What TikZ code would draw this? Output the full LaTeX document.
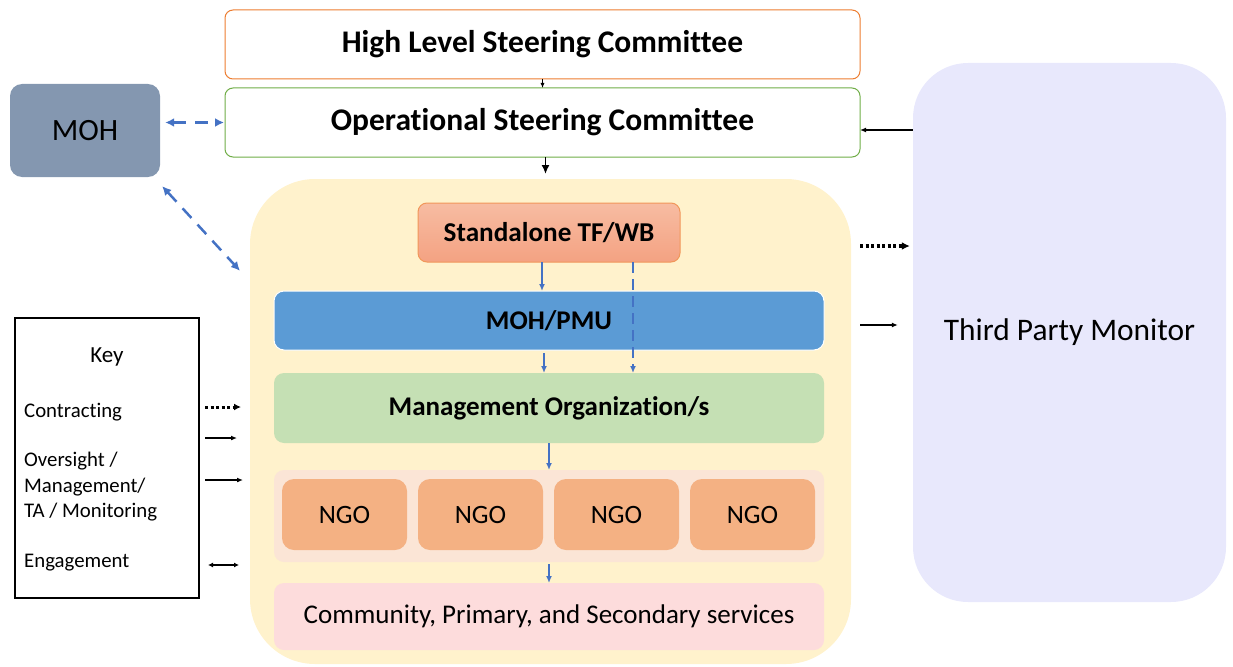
\documentclass[tikz,border=0pt]{standalone}
\usepackage{fontspec}
\setmainfont{Carlito}[Ligatures=NoCommon]
\usetikzlibrary{positioning,arrows.meta}

\definecolor{hlorange}{HTML}{ED7D31}
\definecolor{osgreen}{HTML}{70AD47}
\definecolor{mohgrey}{HTML}{8497B0}
\definecolor{arrowblue}{HTML}{4472C4}
\definecolor{pmublue}{HTML}{5B9BD5}
\definecolor{hostyellow}{HTML}{FFF2CC}
\definecolor{tftop}{HTML}{F7BCA2}
\definecolor{tfbottom}{HTML}{F4A282}
\definecolor{mogreen}{HTML}{C5E0B4}
\definecolor{ngopeach}{HTML}{FBE5D6}
\definecolor{ngoorange}{HTML}{F4B183}
\definecolor{commpink}{HTML}{FDDCDC}
\definecolor{tpmlilac}{HTML}{E8E8FC}

\begin{document}
\begin{tikzpicture}[x=1pt,y=-1pt]
\tikzstyle{board}=[rectangle, rounded corners=8pt, line width=1pt, fill=white, minimum width=635pt, minimum height=69pt, outer sep=0pt, font=\fontsize{31.5}{36}\selectfont\bfseries]
\tikzstyle{unit}=[rectangle, rounded corners=10pt, minimum width=550pt, inner sep=0pt, outer sep=0pt]
\tikzstyle{ngo}=[rectangle, rounded corners=12pt, fill=ngoorange, minimum width=125pt, minimum height=71pt, outer sep=0pt, font=\fontsize{26.5}{30}\selectfont]
\tikzstyle{connect}=[-{Latex[length=7pt,width=6pt]}, line width=2pt, draw=arrowblue]
\tikzstyle{engage}=[{Latex[length=9pt,width=9pt]}-{Latex[length=9pt,width=9pt]}, line width=2.5pt, draw=arrowblue, dash pattern=on 13pt off 9pt]
\tikzstyle{oversee}=[-{Latex[length=6pt,width=5pt]}, line width=1.2pt]
\tikzstyle{contract}=[-{Latex[length=8pt,width=8pt]}, line width=3.5pt, dash pattern=on 3pt off 2.5pt]
\tikzstyle{keytext}=[anchor=west, font=\fontsize{20.8}{25.5}\selectfont, inner sep=0pt]

\useasboundingbox (0,0) rectangle (1233,666);

%% Steering committees
  \node[board, draw=hlorange] (hlsc) at (542.5,44.5) {High Level Steering Committee};
  \node[board, draw=osgreen] (osc) [below=9pt of hlsc] {Operational Steering Committee};
  \node[rectangle, rounded corners=12pt, fill=mohgrey, minimum width=150pt, minimum height=93pt, font=\fontsize{31}{34}\selectfont] (moh) at (85,130.5) {MOH};

%% Implementation
  \node[rectangle, rounded corners=65pt, fill=hostyellow, minimum width=601pt, minimum height=485pt, outer sep=0pt] (host) at (550.5,421.5) {};
  \node[rectangle, rounded corners=9pt, draw=hlorange!80, line width=1pt, top color=tftop, bottom color=tfbottom, minimum width=262pt, minimum height=59pt, outer sep=0pt, font=\fontsize{27.2}{31}\selectfont\bfseries] (tfwb) at (549,232.5) {Standalone TF/WB};
  \node[unit, fill=pmublue, draw=white, line width=1pt, minimum height=59pt, font=\fontsize{27}{31}\selectfont\bfseries] (pmu) [below=29pt of tfwb] {MOH/PMU};
  \node[unit, fill=mogreen, minimum height=70pt, font=\fontsize{27}{31}\selectfont\bfseries] (mo) [below=23pt of pmu] {Management Organization/s};
  \node[unit, fill=ngopeach, minimum height=92pt] (ngos) [below=27pt of mo] {};
  \node[ngo] (ngo1) at (344.5,514.5) {NGO};
  \node[ngo] (ngo2) [right=11pt of ngo1] {NGO};
  \node[ngo] (ngo3) [right=11pt of ngo2] {NGO};
  \node[ngo] (ngo4) [right=11pt of ngo3] {NGO};
  \node[unit, fill=commpink, minimum height=67pt, font=\fontsize{27}{31}\selectfont] (comm) [below=21pt of ngos] {Community, Primary, and Secondary services};

%% Monitoring
  \node[rectangle, rounded corners=55pt, fill=tpmlilac, minimum width=313pt, minimum height=539pt, font=\fontsize{31.4}{36}\selectfont] (tpm) at (1069.5,332.5) {Third Party Monitor};

  \path 
	   %% Committees
           (hlsc) edge [oversee, line width=0.8pt, -{Latex[length=5pt,width=4pt]}] (osc)
           ([xshift=3pt]osc.south) edge [oversee, line width=1.6pt, -{Latex[length=9pt,width=8pt]}, shorten >=5pt] ([xshift=3pt]osc.south |- host.north)
           (moh.east |- osc.west) edge [engage, shorten <=5pt, shorten >=1pt] (osc.west)
           ([shift={(2pt,-9pt)}]moh.south east) edge [engage, shorten >=3pt] (242,273)

           %% Chain of management
           ([xshift=-7pt]tfwb.south) edge [connect] ([xshift=-7pt]tfwb.south |- pmu.north)
           ([xshift=-5pt]pmu.south) edge [connect, shorten <=3pt] ([xshift=-5pt]pmu.south |- mo.north)
           (mo.south) edge [connect] (mo.south |- ngos.north)
           (ngos.south) edge [connect, shorten <=2pt] (ngos.south |- comm.north)

           %% Monitor
           (tpm.west |- 0,130) edge [oversee] ([yshift=-7.5pt]osc.east)
           ([xshift=9pt]host.east |- 0,246) edge [contract, shorten >=3pt] (tpm.west |- 0,246)
           ([xshift=9pt]host.east |- 0,325) edge [oversee, shorten >=15pt] (tpm.west |- 0,325);

  % contract line crosses the PMU
  \draw[connect, line width=2pt, dash pattern=on 11pt off 6pt] ([xshift=84pt]tfwb.south) -- ([xshift=84pt]tfwb.south |- mo.north);

%% Key
  \node[rectangle, draw=black, line width=2pt, fill=white, minimum width=184pt, minimum height=280pt] (key) at (107,458) {};
  \node[font=\fontsize{23}{27}\selectfont] (keytitle) at (107,357) {Key};
  \node[keytext] (kcontract) at (24,412) {Contracting};
  \node[keytext, align=left] (koversee) at (24,487) {Oversight /\\Management/\\TA / Monitoring};
  \node[keytext] (kengage) at (24,563) {Engagement};

  \coordinate (c1a) at (205,407);
  \coordinate (c1b) at (241,407);
  \coordinate (c2a) at (205,438);
  \coordinate (c2b) at (237,438);
  \coordinate (c3a) at (205,480);
  \coordinate (c3b) at (243,480);
  \coordinate (c4a) at (208,565);
  \coordinate (c4b) at (239,565);
  \draw[contract, line width=3pt, -{Latex[length=7pt,width=7pt]}] (c1a) -- (c1b);
  \draw[oversee] (c2a) -- (c2b);
  \draw[oversee] (c3a) -- (c3b);
  \draw[oversee, {Latex[length=5pt,width=5pt]}-{Latex[length=5pt,width=5pt]}] (c4a) -- (c4b);
\end{tikzpicture}
\end{document}
